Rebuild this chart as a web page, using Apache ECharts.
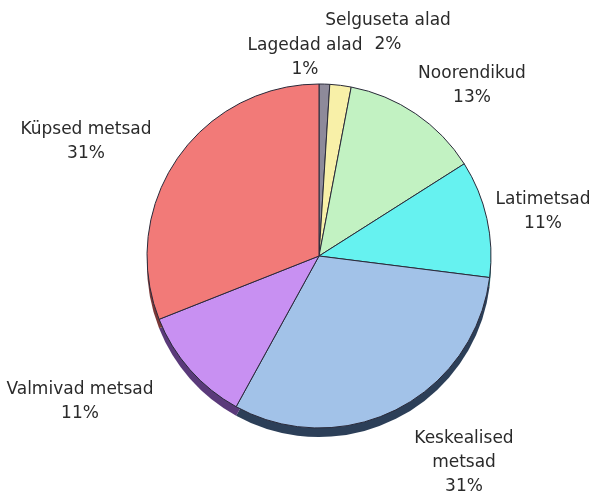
<!DOCTYPE html>
<html>
<head>
<meta charset="utf-8">
<script src="https://cdn.jsdelivr.net/npm/echarts@6/dist/echarts.min.js"></script>
<style>
html,body{margin:0;padding:0;background:#fff;}
#c{width:609px;height:497px;}
</style>
</head>
<body>
<div id="c"></div>
<script>
// Data
const categories = ['Lagedad alad', 'Selguseta alad', 'Noorendikud', 'Latimetsad', 'Keskealised\nmetsad', 'Valmivad metsad', 'Küpsed metsad'];
const shares = [1, 2, 13, 11, 31, 11, 31];

// Styles
const colors = ['#8e8a9a', '#f8f0a8', '#c2f2c2', '#66f2f0', '#a2c2e8', '#c890f2', '#f27a78'];
const shadowColors = ['#4a4652', '#8a8450', '#5a7a5a', '#2a6e72', '#2c3f58', '#5a3a7a', '#7a3838'];
const labelPos = [[305, 58], [388, 33], [472, 86], [543, 212], [464, 463], [80, 402], [86, 142]];

const chart = echarts.init(document.getElementById('c'));
const mainData = categories.map((n, i) => ({ name: n, value: shares[i], itemStyle: { color: colors[i] } }));
const shadowData = categories.map((n, i) => ({ name: n, value: shares[i], itemStyle: { color: shadowColors[i] } }));

chart.setOption({
  backgroundColor: '#ffffff',
  animation: false,
  series: [
    {
      type: 'pie',
      silent: true,
      center: [319, 265],
      radius: 172,
      startAngle: 90,
      clockwise: true,
      label: { show: false },
      labelLine: { show: false },
      itemStyle: { borderWidth: 0 },
      emphasis: { disabled: true },
      data: shadowData,
      z: 1
    },
    {
      type: 'pie',
      center: [319, 256],
      radius: 172,
      startAngle: 90,
      clockwise: true,
      avoidLabelOverlap: false,
      itemStyle: { borderColor: '#2a2a3a', borderWidth: 1 },
      emphasis: { disabled: true },
      label: {
        show: true,
        position: 'outside',
        alignTo: 'none',
        overflow: 'none',
        width: 200,
        formatter: p => p.name + '\n' + p.value + '%',
        fontFamily: 'DejaVu Sans',
        fontSize: 17,
        lineHeight: 24,
        color: '#2a2a2a',
        align: 'center'
      },
      labelLine: { show: false },
      labelLayout: function (params) {
        const pos = labelPos[params.dataIndex];
        return { x: pos[0], y: pos[1], align: 'center', verticalAlign: 'middle', hideOverlap: false };
      },
      data: mainData,
      z: 2
    }
  ]
});
</script>
</body>
</html>
